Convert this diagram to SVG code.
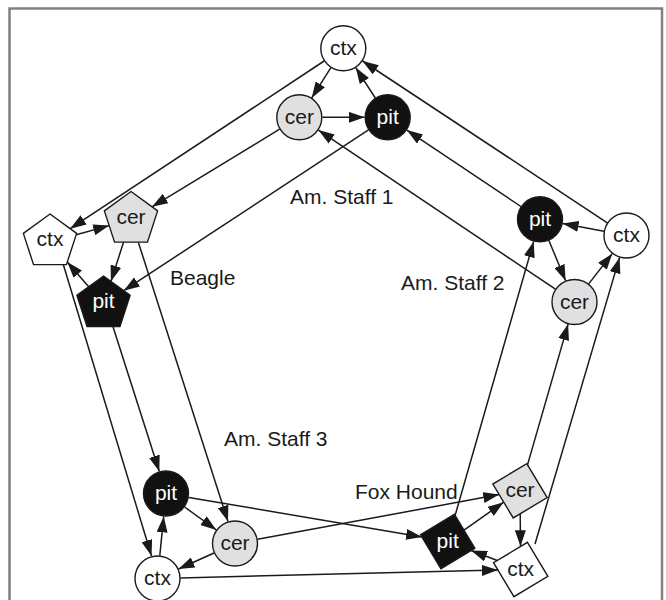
<svg xmlns="http://www.w3.org/2000/svg" width="666" height="600" viewBox="0 0 666 600">
<style>
.frame{fill:none;stroke:#808080;stroke-width:2.5}
.e{stroke:#1a1a1a;stroke-width:1.5;fill:none;marker-end:url(#ah)}
.n{stroke:#1a1a1a;stroke-width:1.4}
.ctx{fill:#fff}.cer{fill:#e0e0e0}.pit{fill:#111}
text{font-family:"Liberation Sans",Arial,sans-serif;font-size:21px;text-anchor:middle;fill:#1a1a1a}
text.w{fill:#fff}
text.lab{text-anchor:start}
</style>
<defs>
<marker id="ah" markerWidth="16" markerHeight="11" refX="16" refY="5.5" orient="auto" markerUnits="userSpaceOnUse"><path d="M0,0 L16,5.5 L0,11 z" fill="#1a1a1a"/></marker>
<polygon id="pent" points="0,-28 26.63,-8.65 16.46,22.65 -16.46,22.65 -26.63,-8.65"/>
<polygon id="diam" points="6.77,-27.17 27.17,6.77 -6.77,27.17 -27.17,-6.77"/>
</defs>
<rect x="0" y="0" width="666" height="600" fill="#fff"/>
<path class="frame" d="M9.5,602 V8.5 H662 V602"/>
<g id="connectors">
<line class="e" x1="330.9" y1="67.7" x2="311.7" y2="97.9"/>
<line class="e" x1="375.3" y1="98.0" x2="355.7" y2="67.6"/>
<line class="e" x1="322.3" y1="117.3" x2="364.7" y2="117.3"/>
<line class="e" x1="324.1" y1="61.0" x2="70.2" y2="228.7"/>
<line class="e" x1="279.6" y1="129.2" x2="152.0" y2="206.8"/>
<line class="e" x1="368.5" y1="129.9" x2="123.7" y2="290.7"/>
<line class="e" x1="607.3" y1="222.8" x2="362.5" y2="61.0"/>
<line class="e" x1="520.9" y1="206.5" x2="406.8" y2="130.1"/>
<line class="e" x1="555.4" y1="289.2" x2="318.4" y2="130.1"/>
<line class="e" x1="603.9" y1="231.3" x2="562.6" y2="223.5"/>
<line class="e" x1="548.9" y1="240.5" x2="565.6" y2="280.8"/>
<line class="e" x1="588.7" y1="283.9" x2="612.3" y2="253.6"/>
<line class="e" x1="535.0" y1="544.0" x2="619.6" y2="257.4"/>
<line class="e" x1="527.5" y1="464.9" x2="568.1" y2="324.1"/>
<line class="e" x1="455.1" y1="515.5" x2="533.7" y2="241.4"/>
<line class="e" x1="464.0" y1="530.1" x2="503.7" y2="502.2"/>
<line class="e" x1="520.2" y1="513.8" x2="520.5" y2="546.3"/>
<line class="e" x1="497.3" y1="560.5" x2="471.1" y2="550.5"/>
<line class="e" x1="257.6" y1="539.3" x2="499.2" y2="494.6"/>
<line class="e" x1="188.7" y1="497.4" x2="422.0" y2="537.1"/>
<line class="e" x1="180.5" y1="577.9" x2="497.9" y2="570.1"/>
<line class="e" x1="159.8" y1="555.6" x2="163.7" y2="516.4"/>
<line class="e" x1="184.6" y1="507.0" x2="216.4" y2="530.0"/>
<line class="e" x1="214.0" y1="553.0" x2="178.5" y2="569.0"/>
<line class="e" x1="63.0" y1="263.5" x2="151.5" y2="556.0"/>
<line class="e" x1="113.0" y1="326.7" x2="159.3" y2="471.5"/>
<line class="e" x1="138.3" y1="242.2" x2="228.0" y2="521.6"/>
<line class="e" x1="76.2" y1="234.7" x2="109.2" y2="225.6"/>
<line class="e" x1="123.6" y1="242.1" x2="110.9" y2="281.4"/>
<line class="e" x1="88.7" y1="286.8" x2="67.3" y2="262.1"/>
</g>
<g id="a1-ctx"><circle class="n ctx" cx="343.3" cy="48.3" r="22.5"/><text x="343.3" y="55">ctx</text></g>
<g id="a1-cer"><circle class="n cer" cx="299.3" cy="117.3" r="22.5"/><text x="299.3" y="124">cer</text></g>
<g id="a1-pit"><circle class="n pit" cx="387.7" cy="117.3" r="22.5"/><text class="w" x="387.7" y="124">pit</text></g>
<g id="a2-pit"><circle class="n pit" cx="540" cy="219.3" r="22.5"/><text class="w" x="540" y="226">pit</text></g>
<g id="a2-ctx"><circle class="n ctx" cx="626.5" cy="235.5" r="22.5"/><text x="626.5" y="242.2">ctx</text></g>
<g id="a2-cer"><circle class="n cer" cx="574.5" cy="302" r="22.5"/><text x="574.5" y="308.7">cer</text></g>
<g id="a3-pit"><circle class="n pit" cx="166" cy="493.5" r="22.5"/><text class="w" x="166" y="500.2">pit</text></g>
<g id="a3-cer"><circle class="n cer" cx="235" cy="543.5" r="22.5"/><text x="235" y="550.2">cer</text></g>
<g id="a3-ctx"><circle class="n ctx" cx="157.5" cy="578.5" r="22.5"/><text x="157.5" y="585.2">ctx</text></g>
<g id="b-ctx"><use href="#pent" class="n ctx" transform="translate(50,242)"/><text x="50" y="246">ctx</text></g>
<g id="b-cer"><use href="#pent" class="n cer" transform="translate(131,219.5)"/><text x="131" y="223.5">cer</text></g>
<g id="b-pit"><use href="#pent" class="n pit" transform="translate(103.5,304)"/><text class="w" x="103.5" y="308">pit</text></g>
<g id="f-cer"><use href="#diam" class="n cer" transform="translate(520,490.8)"/><text x="520" y="497.3">cer</text></g>
<g id="f-pit"><use href="#diam" class="n pit" transform="translate(447.7,541.5)"/><text class="w" x="447.7" y="548">pit</text></g>
<g id="f-ctx"><use href="#diam" class="n ctx" transform="translate(520.7,569.5)"/><text x="520.7" y="576">ctx</text></g>
<g id="labels">
<text class="lab" x="290" y="204">Am. Staff 1</text>
<text class="lab" x="170" y="285">Beagle</text>
<text class="lab" x="401" y="290">Am. Staff 2</text>
<text class="lab" x="224" y="446">Am. Staff 3</text>
<text class="lab" x="355" y="499">Fox Hound</text>
</g>
</svg>
